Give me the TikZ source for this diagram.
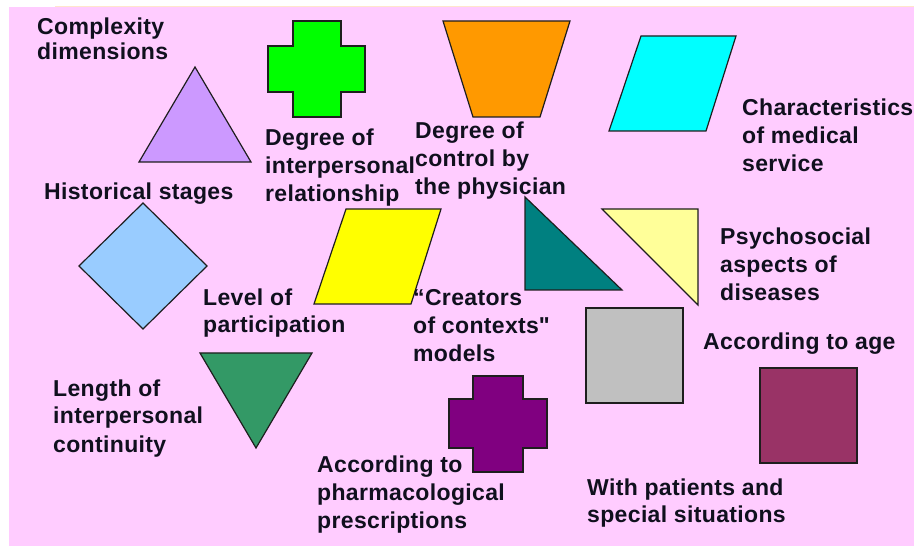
\documentclass[tikz,border=0pt]{standalone}
\usepackage{fontspec}
\setmainfont{Liberation Sans}[LetterSpace=1.5]
% same face without the TeX quote mapping, for a straight double quote
\newfontfamily\straightfont{Liberation Sans}[LetterSpace=1.5]
\definecolor{pinkbg}{HTML}{FFCCFF}
\definecolor{peach}{HTML}{FFE6CC}
\definecolor{outl}{HTML}{1E1E1E}
\definecolor{ink}{HTML}{10101E}
\definecolor{lavender}{HTML}{CC99FF}
\definecolor{brightgreen}{HTML}{00FF00}
\definecolor{orangefill}{HTML}{FF9900}
\definecolor{cyanfill}{HTML}{00FFFF}
\definecolor{skyfill}{HTML}{99CCFF}
\definecolor{yellowfill}{HTML}{FFFF00}
\definecolor{tealfill}{HTML}{008080}
\definecolor{paleyellow}{HTML}{FFFF99}
\definecolor{seagreen}{HTML}{339966}
\definecolor{purplefill}{HTML}{800080}
\definecolor{greyfill}{HTML}{C0C0C0}
\definecolor{maroonfill}{HTML}{993366}
% left-aligned block of lines whose baseline is that of its first line
\newcommand\lblines[1]{\begin{tabular}[t]{@{}l@{}}#1\end{tabular}}
\begin{document}
\begin{tikzpicture}[x=1pt,y=-1pt,
  figure/.style={draw=outl, line width=1.2pt, line join=miter},
  lbl/.style={inner sep=0pt, anchor=base west, text=ink,
    font=\fontsize{23}{28}\selectfont\bfseries},
  tight/.style={font=\fontsize{23}{24.5}\selectfont\bfseries},
  mid/.style={font=\fontsize{23}{27}\selectfont\bfseries}]
\useasboundingbox (0,0) rectangle (914,548);
% slide background
\fill[pinkbg] (9,7) rectangle (914,546);
\draw[peach, line width=1.2pt] (55,6.4) -- (914,6.4);

% shapes
\draw[figure, fill=lavender] (195,67) -- (251,162) -- (139,162) -- cycle;
\draw[figure, fill=brightgreen] (293,21) -- (341,21) -- (341,46) -- (365,46) -- (365,92)
  -- (341,92) -- (341,117) -- (293,117) -- (293,92) -- (268,92) -- (268,46) -- (293,46) -- cycle;
\draw[figure, fill=orangefill] (443,21) -- (570,21) -- (540,117) -- (473,117) -- cycle;
\draw[figure, fill=cyanfill] (641,36) -- (736,36) -- (706,131) -- (609,131) -- cycle;
\draw[figure, fill=skyfill] (143,203) -- (207,266) -- (143,329) -- (79,266) -- cycle;
\draw[figure, fill=yellowfill] (346,209) -- (441,209) -- (411,304) -- (314,304) -- cycle;
\draw[figure, fill=tealfill] (525,197) -- (622,290) -- (525,290) -- cycle;
\draw[figure, fill=paleyellow] (602,209) -- (698,209) -- (698,305) -- cycle;
\draw[figure, fill=seagreen] (200,353) -- (312,353) -- (256,448) -- cycle;
\draw[figure, fill=purplefill] (473,376) -- (523,376) -- (523,399) -- (547,399) -- (547,448)
  -- (523,448) -- (523,472) -- (473,472) -- (473,448) -- (449,448) -- (449,399) -- (473,399) -- cycle;
\draw[figure, fill=greyfill] (586,308) rectangle (683,403);
\draw[figure, fill=maroonfill] (760,368) rectangle (857,463);

% labels
\node[lbl, tight] (complexity) at (37,35) {\lblines{Complexity\\dimensions}};
\node[lbl] (interpersonal) at (265,146) {\lblines{Degree of\\interpersonal\\relationship}};
\node[lbl] (control) at (415,139) {\lblines{Degree of\\control by\\the physician}};
\node[lbl] (characteristics) at (742,116) {\lblines{Characteristics\\of medical\\service}};
\node[lbl] (historical) at (44,200) {Historical stages};
\node[lbl, mid] (participation) at (203,306) {\lblines{Level of\\participation}};
\node[lbl] (creators) at (413,306) {\lblines{“Creators\\of contexts{\straightfont"}\\models}};
\node[lbl] (psychosocial) at (720,245) {\lblines{Psychosocial\\aspects of\\diseases}};
\node[lbl] (age) at (703,350) {According to age};
\node[lbl] (continuity) at (53,396) {\lblines{Length of\\interpersonal\\continuity}};
\node[lbl] (pharma) at (317,472) {\lblines{According to\\pharmacological\\prescriptions}};
\node[lbl, mid] (special) at (587,495) {\lblines{With patients and\\special situations}};
\end{tikzpicture}
\end{document}
